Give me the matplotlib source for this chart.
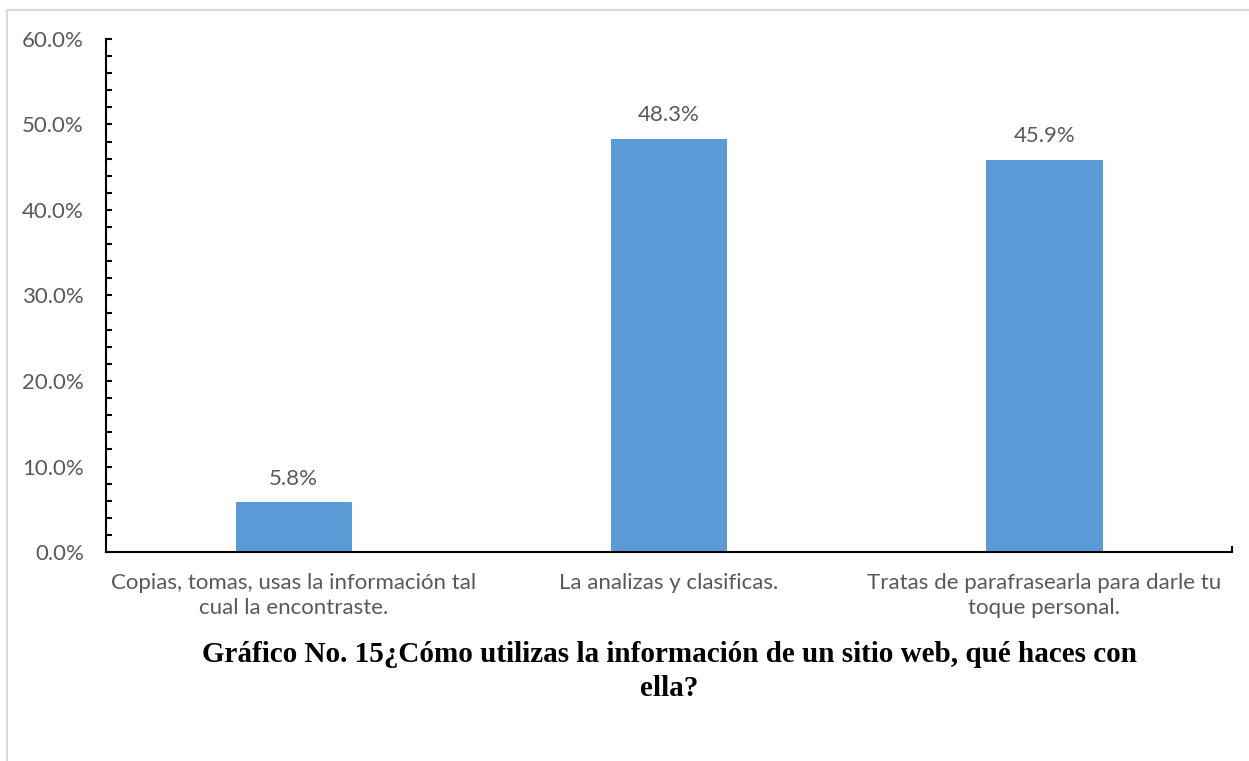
import matplotlib.pyplot as plt
from matplotlib.lines import Line2D
from matplotlib.ticker import MultipleLocator, FuncFormatter

categories = [
    'Copias, tomas, usas la información tal\ncual la encontraste.',
    'La analizas y clasificas.',
    'Tratas de parafrasearla para darle tu\ntoque personal.',
]
values = [5.8, 48.3, 45.9]
title = ('Gráfico No. 15¿Cómo utilizas la información de un sitio web, qué haces con\n'
         'ella?')

gray = '#595959'
plt.rcParams['font.family'] = ['Lato', 'DejaVu Sans']

fig = plt.figure(figsize=(12.49, 7.61), dpi=100)
ax = fig.add_axes([0.0849, 0.2746, 0.9015, 0.6742])

x = range(len(values))
bars = ax.bar(x, values, width=0.31, color='#5B9BD5', zorder=2)
ax.bar_label(bars, labels=['%.1f%%' % v for v in values], padding=10,
             fontsize=16, color=gray)

ax.set_xlim(-0.5, 2.5)
ax.set_ylim(0, 60)
ax.yaxis.set_major_locator(MultipleLocator(10))
ax.yaxis.set_minor_locator(MultipleLocator(2))
ax.yaxis.set_major_formatter(FuncFormatter(lambda v, p: '%.1f%%' % v))
ax.set_xticks(list(x))
ax.set_xticklabels(categories, linespacing=1.3)
ax.set_xticks([2.5], minor=True)

for s in ['top', 'right']:
    ax.spines[s].set_visible(False)
for s in ['left', 'bottom']:
    ax.spines[s].set_linewidth(1.5)
    ax.spines[s].set_color('black')

ax.tick_params(axis='y', which='both', direction='in', length=4, width=1.5,
               labelsize=16, labelcolor=gray, pad=16)
ax.tick_params(axis='x', which='both', direction='in', length=4, width=1.5,
               labelsize=16, labelcolor=gray, pad=15)

fig.text(0.5357, 0.1176, title, ha='center', va='center', fontsize=21,
         fontweight='bold', family='Liberation Serif', color='black',
         linespacing=1.3)

# light outer frame
fig.add_artist(Line2D([7 / 1249, 1], [1 - 10 / 761, 1 - 10 / 761],
                      transform=fig.transFigure, color='#D9D9D9', lw=1.5))
fig.add_artist(Line2D([7 / 1249, 7 / 1249], [0, 1 - 10 / 761],
                      transform=fig.transFigure, color='#D9D9D9', lw=1.5))

fig.savefig('out.png', dpi=100)
